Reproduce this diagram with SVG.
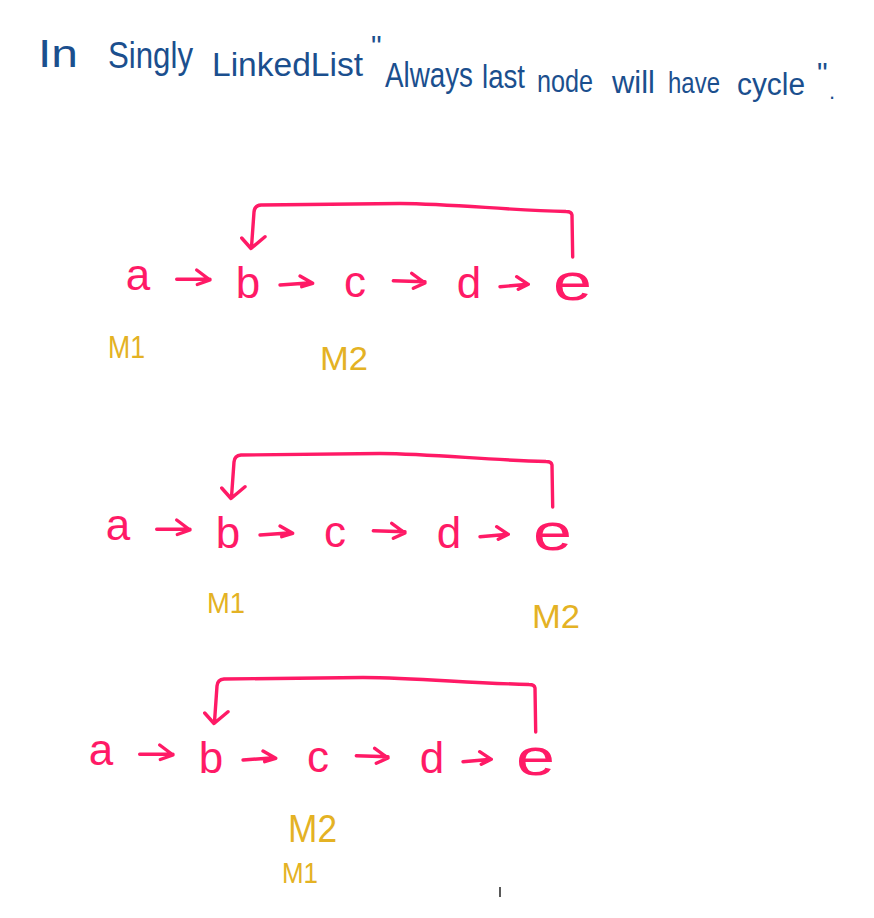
<svg xmlns="http://www.w3.org/2000/svg" width="874" height="918" viewBox="0 0 874 918">
<defs>
<style>
.title{font-family:"Liberation Sans",Arial,sans-serif;fill:#1B4F8E}
.node{font-family:"Liberation Sans",Arial,sans-serif;fill:#FF1A66;font-size:44px;text-anchor:middle}
.ptr{font-family:"Liberation Sans",Arial,sans-serif;fill:#E4B224;font-weight:normal}
.ln{fill:none;stroke:#FF1A66;stroke-width:3.4;stroke-linecap:round;stroke-linejoin:round}
</style>
</defs>
<rect width="874" height="918" fill="#ffffff"/>
<g id="title">
<text class="title" x="38" y="67" style="font-size:39px" textLength="40" lengthAdjust="spacingAndGlyphs">In</text>
<text class="title" x="108" y="68" style="font-size:36px" textLength="85" lengthAdjust="spacingAndGlyphs">Singly</text>
<text class="title" x="212" y="76" style="font-size:34px" textLength="151" lengthAdjust="spacingAndGlyphs">LinkedList</text>
<text class="title" x="371" y="56" style="font-size:30px">"</text>
<text class="title" transform="translate(385,87) scale(1,1.3)" x="0" y="0" style="font-size:27px" textLength="88" lengthAdjust="spacingAndGlyphs">Always</text>
<text class="title" x="482" y="88" style="font-size:34px" textLength="43" lengthAdjust="spacingAndGlyphs">last</text>
<text class="title" x="537" y="92" style="font-size:32px" textLength="56" lengthAdjust="spacingAndGlyphs">node</text>
<text class="title" x="612" y="93" style="font-size:31px" textLength="43" lengthAdjust="spacingAndGlyphs">will</text>
<text class="title" x="668" y="93" style="font-size:30px" textLength="52" lengthAdjust="spacingAndGlyphs">have</text>
<text class="title" x="737" y="95" style="font-size:31px" textLength="68" lengthAdjust="spacingAndGlyphs">cycle</text>
<text class="title" x="817" y="83" style="font-size:30px">"</text>
<text class="title" x="829" y="99" style="font-size:22px">.</text>
</g>

<g id="row1">
<g id="r1-a"><text class="node" x="138" y="290">a</text></g>
<g id="r1-b"><text class="node" x="248" y="298">b</text></g>
<g id="r1-c"><text class="node" x="355" y="297">c</text></g>
<g id="r1-d"><text class="node" x="469" y="298">d</text></g>
<g id="r1-e"><text class="node" x="553" y="300" style="font-size:52px;text-anchor:start" textLength="39" lengthAdjust="spacingAndGlyphs">e</text></g>
<g id="r1-connectors">
<path class="ln" d="M176.7,279.3 L210,279.3 M196.7,270 L210,280 L197.3,284.5"/>
<path class="ln" d="M280,285 L311.7,282.7 M300,276 L312.7,283.3 L301.7,286.7"/>
<path class="ln" d="M393.3,280.7 L425,281.7 M411.7,273.3 L425,283 L413.3,288.3"/>
<path class="ln" d="M500,286.7 L528.3,284.3 M516.7,276.7 L528.3,284.3 L518.3,289.3"/>
<path class="ln" d="M572.7,257 L572,215 Q571.5,211.5 566,211.5 C505,210 455,204 400,203.5 L261,205 Q254.5,205.5 254,212 L251.5,247 M241.7,238 L251,248.5 L265,236.7"/>
</g>
</g>

<g id="row2" transform="translate(-20,250)">
<g id="r2-a"><text class="node" x="138" y="290">a</text></g>
<g id="r2-b"><text class="node" x="248" y="298">b</text></g>
<g id="r2-c"><text class="node" x="355" y="297">c</text></g>
<g id="r2-d"><text class="node" x="469" y="298">d</text></g>
<g id="r2-e"><text class="node" x="553" y="300" style="font-size:52px;text-anchor:start" textLength="39" lengthAdjust="spacingAndGlyphs">e</text></g>
<g id="r2-connectors">
<path class="ln" d="M176.7,279.3 L210,279.3 M196.7,270 L210,280 L197.3,284.5"/>
<path class="ln" d="M280,285 L311.7,282.7 M300,276 L312.7,283.3 L301.7,286.7"/>
<path class="ln" d="M393.3,280.7 L425,281.7 M411.7,273.3 L425,283 L413.3,288.3"/>
<path class="ln" d="M500,286.7 L528.3,284.3 M516.7,276.7 L528.3,284.3 L518.3,289.3"/>
<path class="ln" d="M572.7,257 L572,215 Q571.5,211.5 566,211.5 C505,210 455,204 400,203.5 L261,205 Q254.5,205.5 254,212 L251.5,247 M241.7,238 L251,248.5 L265,236.7"/>
</g>
</g>

<g id="row3" transform="translate(-37,475)">
<g id="r3-a"><text class="node" x="138" y="290">a</text></g>
<g id="r3-b"><text class="node" x="248" y="298">b</text></g>
<g id="r3-c"><text class="node" x="355" y="297">c</text></g>
<g id="r3-d"><text class="node" x="469" y="298">d</text></g>
<g id="r3-e"><text class="node" x="553" y="300" style="font-size:52px;text-anchor:start" textLength="39" lengthAdjust="spacingAndGlyphs">e</text></g>
<g id="r3-connectors">
<path class="ln" d="M176.7,279.3 L210,279.3 M196.7,270 L210,280 L197.3,284.5"/>
<path class="ln" d="M280,285 L311.7,282.7 M300,276 L312.7,283.3 L301.7,286.7"/>
<path class="ln" d="M393.3,280.7 L425,281.7 M411.7,273.3 L425,283 L413.3,288.3"/>
<path class="ln" d="M500,286.7 L528.3,284.3 M516.7,276.7 L528.3,284.3 L518.3,289.3"/>
<path class="ln" d="M572.7,257 L572,213 Q571.5,209.5 566,209.5 C505,208 455,203 400,202.5 L261,204 Q254.5,204.5 254,211 L251.5,247 M241.7,238 L251,248.5 L265,236.7"/>
</g>
</g>

<g id="pointers">
<text class="ptr" x="108" y="358" style="font-size:31px" textLength="37" lengthAdjust="spacingAndGlyphs">M1</text>
<text class="ptr" x="320" y="370" style="font-size:34px" textLength="48" lengthAdjust="spacingAndGlyphs">M2</text>
<text class="ptr" x="207" y="613" style="font-size:29px" textLength="38" lengthAdjust="spacingAndGlyphs">M1</text>
<text class="ptr" x="532" y="628" style="font-size:34px" textLength="48" lengthAdjust="spacingAndGlyphs">M2</text>
<text class="ptr" x="288" y="842" style="font-size:38px" textLength="49" lengthAdjust="spacingAndGlyphs">M2</text>
<text class="ptr" x="282" y="883" style="font-size:29px" textLength="36" lengthAdjust="spacingAndGlyphs">M1</text>
</g>
<line x1="500" y1="887" x2="500" y2="897" stroke="#000000" stroke-width="1.3"/>
</svg>
